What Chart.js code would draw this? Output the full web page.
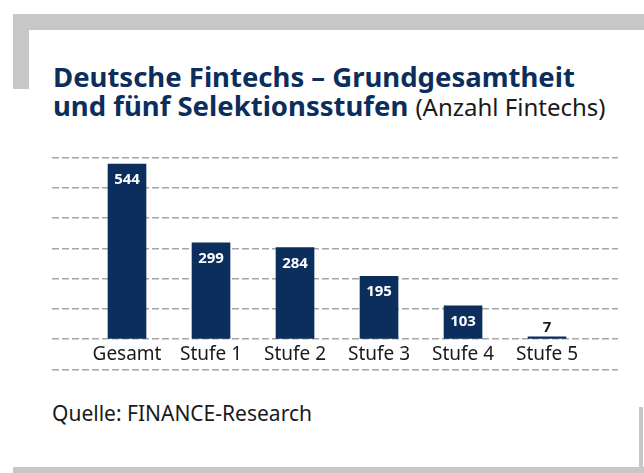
<!DOCTYPE html>
<html>
<head>
<meta charset="utf-8">
<script src="https://cdn.jsdelivr.net/npm/chart.js@4.4.0/dist/chart.umd.min.js"></script>
<style>
  html, body { margin: 0; padding: 0; background: #ffffff; }
  #page { position: relative; width: 644px; height: 473px; overflow: hidden; background: #ffffff; font-family: "Noto Sans", sans-serif; }
  .frame { position: absolute; background: #c6c7c6; }
  #title { position: absolute; left: 53px; top: 62px; color: #0b2e5c; font-weight: 700; font-size: 27.5px; line-height: 29px; white-space: nowrap; }
  #title .sub { font-weight: 400; font-size: 24px; color: #1a1a1a; }
  #source { position: absolute; left: 52px; top: 401px; font-size: 21px; line-height: 24px; color: #1a1a1a; white-space: nowrap; }
  #chartBox { position: absolute; left: 0; top: 0; width: 644px; height: 473px; }
</style>
</head>
<body>
<div id="page">
  <div class="frame" style="left:13px; top:14px; width:631px; height:16px;"></div>
  <div class="frame" style="left:13px; top:14px; width:16px; height:75px;"></div>
  <div class="frame" style="left:13px; top:467px; width:631px; height:6px;"></div>
  <div class="frame" style="left:639px; top:407px; width:4px; height:60px;"></div>
  <div id="title">
    <div>Deutsche Fintechs – Grundgesamtheit</div>
    <div>und fünf Selektionsstufen <span class="sub">(Anzahl Fintechs)</span></div>
  </div>
  <div id="source">Quelle: FINANCE-Research</div>
  <div id="chartBox"><canvas id="c" width="644" height="473"></canvas></div>
</div>
<script>
const categories = ['Gesamt', 'Stufe 1', 'Stufe 2', 'Stufe 3', 'Stufe 4', 'Stufe 5'];
const values = [544, 299, 284, 195, 103, 7];
const valueLabels = ['544', '299', '284', '195', '103', '7'];
const gridStep = 94;
const gridTicks = [-1, 0, 1, 2, 3, 4, 5, 6];

const navy = '#0b2e5c';

const valueLabelPlugin = {
  id: 'valueLabels',
  afterDatasetsDraw(chart) {
    const ctx = chart.ctx;
    const meta = chart.getDatasetMeta(0);
    ctx.save();
    ctx.font = 'bold 15px "Noto Sans"';
    ctx.textAlign = 'center';
    ctx.textBaseline = 'alphabetic';
    meta.data.forEach((bar, i) => {
      const h = bar.base - bar.y;
      if (h > 26) {
        ctx.fillStyle = '#ffffff';
        ctx.fillText(valueLabels[i], bar.x, bar.y + 20);
      } else {
        ctx.fillStyle = '#1d1d1b';
        ctx.fillText(valueLabels[i], bar.x, bar.y - 5);
      }
    });
    ctx.restore();
  }
};

new Chart(document.getElementById('c'), {
  type: 'bar',
  data: {
    datasets: [{
      data: categories.map((c, i) => ({ x: i, y: values[i] })),
      backgroundColor: navy,
      borderWidth: 0,
      barThickness: 38
    }]
  },
  options: {
    responsive: false,
    animation: false,
    layout: { padding: { left: 52, right: 26, top: 157.6, bottom: 103.7 } },
    plugins: { legend: { display: false }, tooltip: { enabled: false } },
    scales: {
      x: {
        type: 'linear',
        offset: false,
        bounds: 'data',
        position: { y: 0 },
        min: -0.893,
        max: 5.845,
        afterBuildTicks: (s) => { s.ticks = categories.map((c, i) => ({ value: i })); },
        grid: { display: false, drawTicks: false, offset: false },
        border: { display: false },
        ticks: {
          autoSkip: false,
          maxRotation: 0,
          padding: 4,
          color: '#1a1a1a',
          font: { family: 'Noto Sans', size: 19 },
          callback: (v) => categories[v]
        }
      },
      y: {
        min: gridTicks[0] * gridStep,
        max: gridTicks[gridTicks.length - 1] * gridStep,
        afterBuildTicks: (s) => { s.ticks = gridTicks.map(k => ({ value: k * gridStep })); },
        ticks: { display: false },
        border: { display: false, dash: [7, 3] },
        grid: { color: '#a6a6a6', lineWidth: 1.5, drawTicks: false }
      }
    }
  },
  plugins: [valueLabelPlugin]
});
</script>
</body>
</html>
